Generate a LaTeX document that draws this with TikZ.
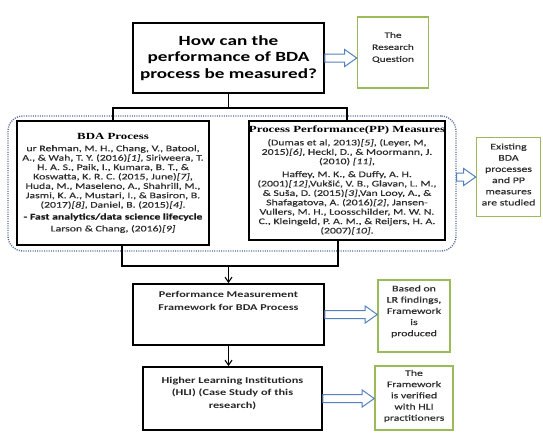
\documentclass[tikz,border=0pt]{standalone}
\usepackage{fontspec}
\setmainfont{Carlito}[FakeStretch=1.37]
\newfontfamily\heavyfont{Carlito}[FakeStretch=1.37,FakeBold=0.35]
\newfontfamily\hdfont{Liberation Serif}[FakeStretch=1.37]
\usetikzlibrary{calc,arrows.meta}
\definecolor{boxgreen}{RGB}{155,187,89}
\definecolor{arrowblue}{RGB}{84,130,190}
\definecolor{dotblue}{RGB}{80,105,150}
\definecolor{bodygray}{RGB}{45,45,45}
\tikzset{
  blackbox/.style={draw=black, line width=1.8pt, inner sep=0pt, align=center},
  greenbox/.style={draw=boxgreen, line width=1.6pt, inner sep=0pt},
  smalltxt/.style={align=center, text=bodygray, font=\heavyfont\fontsize{8.6}{11.2}\selectfont, inner sep=0pt},
  boldtxt/.style={align=center, text=black!85, font=\bfseries\fontsize{8.9}{12.2}\selectfont, inner sep=0pt},
  bodytxt/.style={text=bodygray, font=\heavyfont\fontsize{8.6}{9.4}\selectfont},
  hollow/.style={draw=arrowblue, line width=1pt, fill=white},
  tree/.style={line width=1.8pt},
  thinarrow/.style={line width=1.1pt, -{Straight Barb[length=5pt,width=7pt]}},
  region/.style={draw=dotblue, line width=1.4pt, dash pattern=on 1pt off 1.3pt, rounded corners=15pt, inner sep=0pt},
}
\newcommand\hollowarr[2]{%
  \draw[hollow] let \p1=(#1), \p2=(#2) in
    (\x1,\y1+4pt) -- (\x2-12pt,\y1+4pt) -- (\x2-12pt,\y1+8.5pt) -- (\x2,\y1)
    -- (\x2-12pt,\y1-8.5pt) -- (\x2-12pt,\y1-4pt) -- (\x1,\y1-4pt) -- cycle;}
\begin{document}
\begin{tikzpicture}[x=1pt,y=-1pt]
\useasboundingbox (0,0) rectangle (543,432);
\fill[white] (0,0) rectangle (543,432);

% question
\node[blackbox, minimum width=191pt, minimum height=70pt,
      font=\bfseries\fontsize{14}{16.5}\selectfont] (q) at (228.5,58)
  {How can the\\performance of BDA\\process be measured?};
\node[greenbox, minimum width=71pt, minimum height=71pt] (rq) at (393,52.5) {};
\node[smalltxt, font=\heavyfont\fontsize{8.3}{12}\selectfont] (rqt) at (393,47.5) {The\\Research\\Question};

% literature region
\node[region, minimum width=448pt, minimum height=135pt] (reg) at (232,183.5) {};

\node[blackbox, bodytxt, minimum width=192pt, minimum height=124pt] (bda) at (113,183)
  {{\hdfont\bfseries\fontsize{9.4}{11}\selectfont\textcolor{black}{BDA Process}}\\[2.5pt]
   ur Rehman, M. H., Chang, V., Batool,\\
   A., \& Wah, T. Y. (2016)\textit{[1]}, Siriweera, T.\\
   H. A. S., Paik, I., Kumara, B. T., \&\\
   Koswatta, K. R. C. (2015, June)\textit{[7]},\\
   Huda, M., Maseleno, A., Shahrill, M.,\\
   Jasmi, K. A., Mustari, I., \& Basiron, B.\\
   (2017)\textit{[8]}, Daniel, B. (2015)\textit{[4]}.\\[2.5pt]
   {\bfseries\textcolor{black!90}{- Fast analytics/data science lifecycle}}\\[2.5pt]
   Larson \& Chang, (2016)\textit{[9]}};

\node[blackbox, bodytxt, minimum width=196pt, minimum height=119pt] (pp) at (347,180.5)
  {{\hdfont\bfseries\fontsize{9.4}{11}\selectfont\textcolor{black}{Process Performance(PP) Measures}}\\[3pt]
   (Dumas et al, 2013)\textit{[5]}, (Leyer, M,\\
   2015)\textit{[6]}, Heckl, D., \& Moormann, J.\\
   (2010) \textit{[11]},\\[3.5pt]
   Haffey, M. K., \& Duffy, A. H.\\
   (2001)\textit{[12]},Vukšić, V. B., Glavan, L. M.,\\
   \& Suša, D. (2015)\textit{[3]},Van Looy, A., \&\\
   Shafagatova, A. (2016)\textit{[2]}, Jansen-\\
   Vullers, M. H., Loosschilder, M. W. N.\\
   C., Kleingeld, P. A. M., \& Reijers, H. A.\\
   (2007)\textit{[10]}.};

\node[greenbox, minimum width=64pt, minimum height=79pt] (ex) at (508.5,177) {};
\node[smalltxt] (ext) at (508.5,174.5) {Existing\\BDA\\processes\\and PP\\measures\\are studied};

% framework
\node[blackbox, minimum width=191pt, minimum height=61pt] (pm) at (228.5,314.5) {};
\node[boldtxt] (pmt) at (228.5,301) {Performance Measurement\\Framework for BDA Process};
\node[greenbox, minimum width=72pt, minimum height=72pt] (bas) at (414,316) {};
\node[smalltxt] (bast) at (414,311.5) {Based on\\LR findings,\\Framework\\is\\produced};

% HLI
\node[blackbox, minimum width=179pt, minimum height=63pt] (hli) at (232.5,398.5) {};
\node[boldtxt, font=\bfseries\fontsize{9}{12.5}\selectfont] (hlit) at (232.5,393.5) {Higher Learning Institutions\\(HLI) (Case Study of this\\research)};
\node[greenbox, minimum width=78pt, minimum height=64pt] (ver) at (414,398) {};
\node[smalltxt] (vert) at (414,396) {The\\Framework\\is verified\\with HLI\\practitioners};

% tree connectors
\coordinate (tj) at ($(q.south)+(0,14)$);
\draw[tree] (q.south) -- (tj);
\draw[tree] (bda.north) |- (tj) -| (pp.north);
\coordinate (bl) at ($(bda.south)+(9,0)$);
\coordinate (br) at ($(pp.south)+(-9,0)$);
\coordinate (bj) at ($(bl)+(0,20)$);
\draw[tree] (bl) -- (bj) -| (br);
\draw[thinarrow] (bj -| pm.north) -- (pm.north);
\draw[thinarrow] (pm.south) -- (pm.south |- hli.north);

% hollow arrows
\hollowarr{q.east}{q.east -| rq.west}
\hollowarr{ex.west -| reg.east}{ex.west}
\hollowarr{pm.east}{pm.east -| bas.west}
\hollowarr{hli.east}{hli.east -| ver.west}
\end{tikzpicture}
\end{document}
